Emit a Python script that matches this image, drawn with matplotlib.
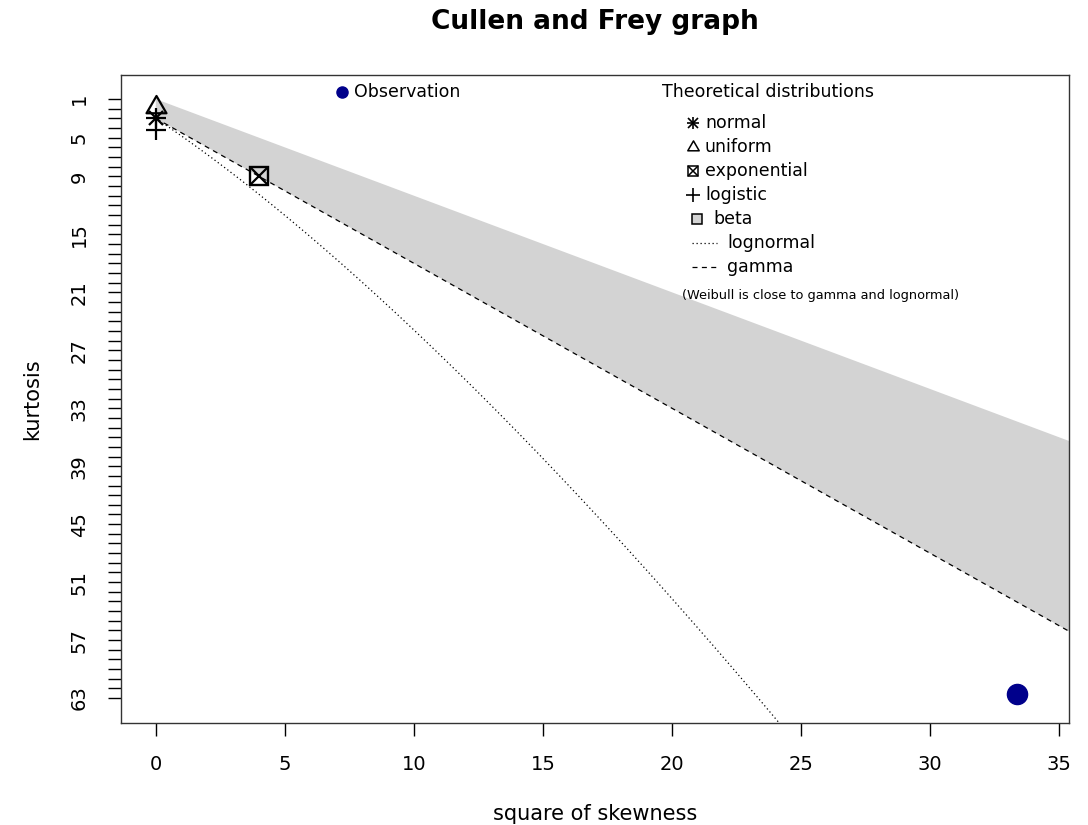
import numpy as np
import matplotlib
matplotlib.use("Agg")
import matplotlib.pyplot as plt
from matplotlib.lines import Line2D
from matplotlib.path import Path

# observed point (square of skewness, kurtosis)
obs_skew2 = [33.37]
obs_kurt = [62.6]

# theoretical reference points
norm_pt = (0.0, 3.0)
unif_pt = (0.0, 1.8)
expo_pt = (4.0, 9.0)
logis_pt = (0.0, 4.2)

# axis setup
x_ticks = [0, 5, 10, 15, 20, 25, 30, 35]
y_ticks = list(range(1, 64))
y_labels_shown = [1, 5, 9, 15, 21, 27, 33, 39, 45, 51, 57, 63]

# theoretical curves (definitions of the reference lines)
s2_line = np.linspace(0, 50, 200)
gamma_k = 3 + 1.5 * s2_line          # gamma line
beta_upper = 1 + s2_line             # lower kurtosis bound of beta region
w = np.linspace(1, 2.6, 400)         # lognormal, w = exp(sigma^2)
lnorm_s2 = (w + 2) ** 2 * (w - 1)
lnorm_k = w ** 4 + 2 * w ** 3 + 3 * w ** 2 - 3

# R style triangle (centred on circumscribed circle)
tri = Path([(0, 1), (-0.866, -0.5), (0.866, -0.5), (0, 1)], closed=True)

W, H = 1088, 825
fig = plt.figure(figsize=(W / 100, H / 100), dpi=100)
ax = fig.add_axes([120.7 / W, 1 - 722.7 / H, (1069 - 120.7) / W, (722.7 - 74.7) / H])

# beta region
ax.fill(np.concatenate([s2_line, s2_line[::-1]]),
        np.concatenate([beta_upper, gamma_k[::-1]]),
        color="#d3d3d3", lw=0, zorder=1)
ax.plot(s2_line, gamma_k, color="black", lw=0.9, dashes=(4, 3.5), zorder=2)
ax.plot(lnorm_s2, lnorm_k, color="black", lw=0.9, dashes=(1, 2.2), zorder=2)

# theoretical points
ax.plot(*norm_pt, marker="+", ms=14.5, mew=1.6, color="black", zorder=3)
ax.plot(*norm_pt, marker="x", ms=10.5, mew=1.6, color="black", zorder=3)
ax.plot(*unif_pt, marker=tri, ms=16.6, mew=1.6, mfc="none", color="black", zorder=3)
ax.plot(*expo_pt, marker="s", ms=12.5, mew=1.7, mfc="none", color="black", zorder=3)
ax.plot(*expo_pt, marker="x", ms=12.5, mew=1.6, color="black", zorder=3)
ax.plot(*logis_pt, marker="+", ms=14.5, mew=1.6, color="black", zorder=3)

# observation
ax.plot(obs_skew2, obs_kurt, "o", ms=14.5, color="#00008b", zorder=4)

ax.set_xlim(-1.36, 35.39)
ax.set_ylim(65.55, -1.52)
ax.set_xticks(x_ticks)
ax.set_xticklabels([str(v) for v in x_ticks])
ax.set_yticks(y_ticks)
ax.set_yticklabels([str(v) if v in y_labels_shown else "" for v in y_ticks],
                   rotation=90, va="center")
ax.tick_params(length=9.4, width=1, labelsize=14, pad=13.5)
for sp in ax.spines.values():
    sp.set_linewidth(1)
    sp.set_color("#333333")

fig.text(595 / W, 1 - 22 / H, "Cullen and Frey graph", ha="center", va="center",
         fontsize=19, fontweight="bold")
fig.text(595 / W, 1 - 814 / H, "square of skewness", ha="center", va="center", fontsize=15)
fig.text(32 / W, 1 - 398.7 / H, "kurtosis", ha="center", va="center", fontsize=15,
         rotation=90)


def fx(px):
    return px / W


def fy(py):
    return 1 - py / H


def key(px, py, **kw):
    fig.add_artist(Line2D([fx(px)], [fy(py)], transform=fig.transFigure, ls="none", **kw))


def label(px, py, s, size=12.5):
    fig.text(fx(px), fy(py + 4.8), s, ha="left", va="baseline", fontsize=size)


# observation legend
key(342, 92, marker="o", ms=8, color="#00008b")
label(354, 92, "Observation")

# theoretical legend
label(662, 92, "Theoretical distributions")
key(693, 123, marker="+", ms=8.5, mew=1.2, color="black")
key(693, 123, marker="x", ms=6.5, mew=1.2, color="black")
label(705, 123, "normal")
key(693, 147, marker=tri, ms=9.5, mew=1.1, mfc="none", color="black")
label(705, 147, "uniform")
key(693, 171, marker="s", ms=7, mew=1.1, mfc="none", color="black")
key(693, 171, marker="x", ms=7, mew=1.1, color="black")
label(705, 171, "exponential")
key(693, 195, marker="+", ms=10, mew=1.2, color="black")
label(705, 195, "logistic")
key(697, 219, marker="s", ms=6.5, mew=1.1, mfc="#d3d3d3", color="black")
label(713, 219, "beta")
fig.add_artist(Line2D([fx(692), fx(717)], [fy(243), fy(243)], transform=fig.transFigure,
                      color="black", lw=0.9, dashes=(1, 2.2)))
label(727, 243, "lognormal")
fig.add_artist(Line2D([fx(692), fx(717)], [fy(267), fy(267)], transform=fig.transFigure,
                      color="black", lw=0.9, dashes=(4, 3.5)))
label(727, 267, "gamma")
label(682, 294, "(Weibull is close to gamma and lognormal)", size=9.3)

fig.savefig("out.png", dpi=100)
